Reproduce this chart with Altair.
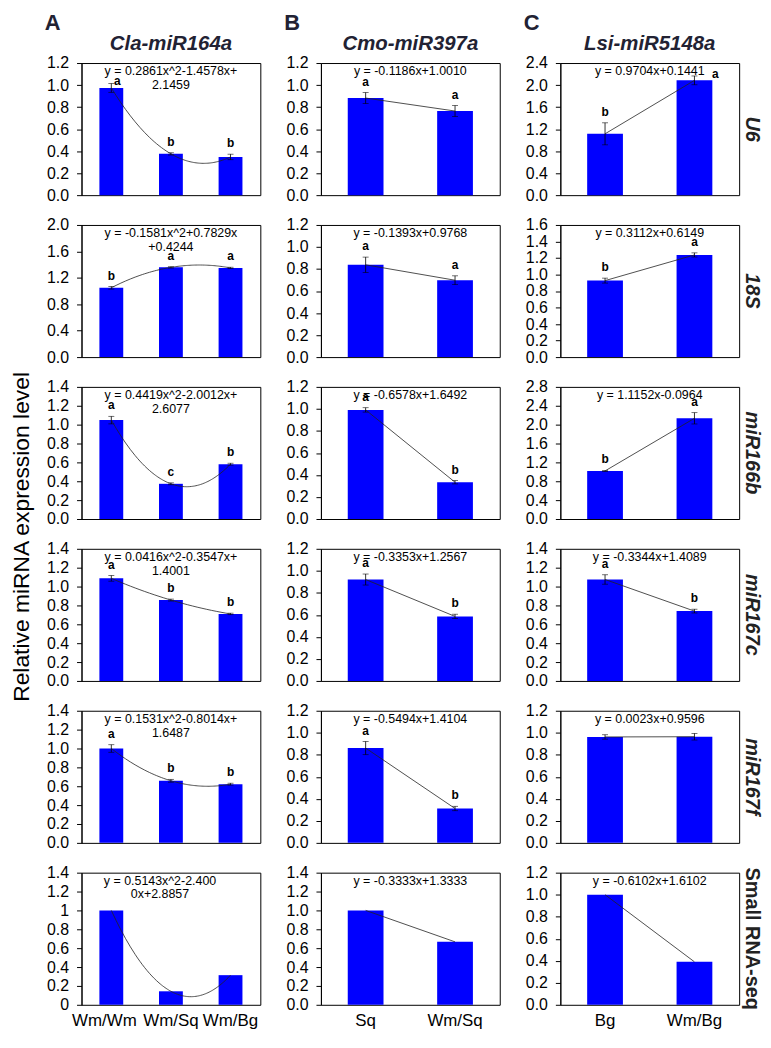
import altair as alt
import pandas as pd

FONT = "Liberation Sans"
BLUE = "#0000ff"
W, H = 180, 133
COL_GAP, ROW_GAP = 61, 30

col_letters = ["A", "B", "C"]
col_titles = ["Cla-miR164a", "Cmo-miR397a", "Lsi-miR5148a"]
row_labels = ["U6", "18S", "miR166b", "miR167c", "miR167f", "Small RNA-seq"]
y_title = "Relative miRNA expression level"
groups = [["Wm/Wm", "Wm/Sq", "Wm/Bg"], ["Sq", "Wm/Sq"], ["Bg", "Wm/Bg"]]

# Column A (Cla-miR164a), one list per row
a_values = [[0.974, 0.375, 0.347], [1.049, 1.358, 1.350], [1.048, 0.373, 0.581],
            [1.087, 0.857, 0.710], [1.000, 0.658, 0.622], [1.000, 0.143, 0.314]]
a_errors = [[0.04, 0.01, 0.025], [0.02, 0.01, 0.01], [0.04, 0.01, 0.01],
            [0.03, 0.01, 0.008], [0.04, 0.015, 0.01], [0, 0, 0]]
a_letters = [["a", "b", "b"], ["b", "a", "a"], ["a", "c", "b"],
             ["a", "b", "b"], ["a", "b", "b"], ["", "", ""]]
a_ymax = [1.2, 2.0, 1.4, 1.4, 1.4, 1.4]
a_step = [0.2, 0.4, 0.2, 0.2, 0.2, 0.2]
a_eq = [["y = 0.2861x^2-1.4578x+", "2.1459"], ["y = -0.1581x^2+0.7829x", "+0.4244"],
        ["y = 0.4419x^2-2.0012x+", "2.6077"], ["y = 0.0416x^2-0.3547x+", "1.4001"],
        ["y = 0.1531x^2-0.8014x+", "1.6487"], ["y = 0.5143x^2-2.400", "0x+2.8857"]]

# Column B (Cmo-miR397a)
b_values = [[0.882, 0.764], [0.838, 0.698], [0.991, 0.334],
            [0.921, 0.586], [0.861, 0.312], [1.000, 0.667]]
b_errors = [[0.05, 0.05], [0.07, 0.04], [0.02, 0.015], [0.05, 0.02], [0.06, 0.02], [0, 0]]
b_letters = [["a", "a"], ["a", "a"], ["a", "b"], ["a", "b"], ["a", "b"], ["", ""]]
b_ymax = [1.2, 1.2, 1.2, 1.2, 1.2, 1.4]
b_step = [0.2, 0.2, 0.2, 0.2, 0.2, 0.2]
b_eq = [["y = -0.1186x+1.0010"], ["y = -0.1393x+0.9768"], ["y = -0.6578x+1.6492"],
        ["y = -0.3353x+1.2567"], ["y = -0.5494x+1.4104"], ["y = -0.3333x+1.3333"]]

# Column C (Lsi-miR5148a)
c_values = [[1.114, 2.085], [0.926, 1.237], [1.019, 2.134],
            [1.075, 0.740], [0.962, 0.964], [1.000, 0.390]]
c_errors = [[0.2, 0.08], [0.03, 0.025], [0.01, 0.12], [0.05, 0.02], [0.02, 0.03], [0, 0]]
c_letters = [["b", "a"], ["b", "a"], ["b", "a"], ["a", "b"], ["", ""], ["", ""]]
c_ymax = [2.4, 1.6, 2.8, 1.4, 1.2, 1.2]
c_step = [0.4, 0.2, 0.4, 0.2, 0.2, 0.2]
c_eq = [["y = 0.9704x+0.1441"], ["y = 0.3112x+0.6149"], ["y = 1.1152x-0.0964"],
        ["y = -0.3344x+1.4089"], ["y = 0.0023x+0.9596"], ["y = -0.6102x+1.6102"]]

VALUES = [a_values, b_values, c_values]
ERRORS = [a_errors, b_errors, c_errors]
LETTERS = [a_letters, b_letters, c_letters]
YMAX = [a_ymax, b_ymax, c_ymax]
STEP = [a_step, b_step, c_step]
EQS = [a_eq, b_eq, c_eq]

# small label nudges (col, row, bar) -> (dx, dy) in px
letter_nudge = {(0, 0, 0): (6, 8), (2, 0, 1): (21, 9)}
eq_nudge = {(0, 5): -11}


def one_row():
    return pd.DataFrame({"k": [0]})


def panel(ci, ri):
    grp = groups[ci]
    n = len(grp)
    df = pd.DataFrame({
        "group": grp,
        "idx": list(range(n)),
        "xnum": list(range(1, n + 1)),
        "val": VALUES[ci][ri],
        "err": ERRORS[ci][ri],
        "letter": LETTERS[ci][ri],
    })
    df["lo"] = (df["val"] - df["err"]).round(4)
    df["hi"] = (df["val"] + df["err"]).round(4)

    ymax, step = YMAX[ci][ri], STEP[ci][ri]
    nt = int(round(ymax / step))
    ticks = [round(k * step, 2) for k in range(nt + 1)]
    fmt = "~g" if (ci == 0 and ri == 5) else ".1f"

    xscale = alt.Scale(domain=grp, paddingInner=0.6, paddingOuter=0.3)
    if ri == 5:
        xaxis = alt.Axis(title=None, labelFontSize=17, ticks=False, domain=False,
                         labelPadding=8, labelAngle=0, labelFont=FONT,
                         labelOffset={"condition": {"test": "datum.value === 'Wm/Wm'",
                                                    "value": -7}, "value": 0})
    else:
        xaxis = None
    yscale = alt.Scale(domain=[0, ymax], nice=False)
    yaxis = alt.Axis(values=ticks, format=fmt, title=None)

    X = alt.X("group:N", scale=xscale, axis=xaxis, sort=grp)

    def Y(f):
        return alt.Y(f, scale=yscale, axis=yaxis)

    base = alt.Chart(df)
    bars = base.mark_bar(color=BLUE).encode(x=X, y=Y("val:Q"))
    rules = base.transform_filter("datum.err > 0").mark_rule(
        color="black", strokeWidth=0.8).encode(x=X, y=Y("lo:Q"), y2="hi:Q")
    caps = base.transform_filter("datum.err > 0").transform_fold(
        ["lo", "hi"], as_=["capk", "capv"]).mark_tick(
        color="black", thickness=0.8, size=6).encode(x=X, y=Y("capv:Q"))

    nudged = [k for k in range(n) if (ci, ri, k) in letter_nudge]
    cond = "datum.letter != ''" + "".join(f" && datum.idx != {k}" for k in nudged)
    letter_layers = [base.transform_filter(cond).mark_text(
        font=FONT, fontSize=12, fontWeight="bold", color="black",
        baseline="bottom", dy=-4).encode(x=X, y=Y("hi:Q"), text="letter:N")]
    for k in nudged:
        dx, dy = letter_nudge[(ci, ri, k)]
        letter_layers.append(base.transform_filter(f"datum.idx == {k}").mark_text(
            font=FONT, fontSize=12, fontWeight="bold", color="black",
            baseline="bottom", dx=dx, dy=-4 + dy).encode(x=X, y=Y("hi:Q"), text="letter:N"))

    inner = alt.layer(bars, rules, caps, *letter_layers)

    if n == 3:
        reg = base.transform_regression("xnum", "val", method="poly", order=2)
    else:
        reg = base.transform_regression("xnum", "val", method="linear")
    trend = reg.mark_line(color="#222222", strokeWidth=0.8).encode(
        x=alt.X("xnum:Q", scale=alt.Scale(domain=[0.5, n + 0.5], nice=False, zero=False),
                axis=None),
        y=Y("val:Q"))

    texts = []
    texts.append(alt.Chart(one_row()).mark_text(
        text=EQS[ci][ri], font=FONT, fontSize=12.5, lineHeight=14, color="black",
        align="center", baseline="top").encode(
        x=alt.value(W / 2 + eq_nudge.get((ci, ri), 0)), y=alt.value(2)))

    if ci == 2:
        lab = row_labels[ri]
        style = "normal" if lab.startswith("Small") else "italic"
        texts.append(alt.Chart(one_row()).mark_text(
            text=lab, font=FONT, fontSize=20, fontWeight="bold", fontStyle=style,
            color="#222222", angle=90, align="center", baseline="middle").encode(
            x=alt.value(W + 13), y=alt.value(H / 2)))
    if ri == 0:
        texts.append(alt.Chart(one_row()).mark_text(
            text=col_letters[ci], font=FONT, fontSize=22, fontWeight="bold",
            color="#222233", align="center", baseline="alphabetic").encode(
            x=alt.value(-29), y=alt.value(-33)))
        texts.append(alt.Chart(one_row()).mark_text(
            text=col_titles[ci], font=FONT, fontSize=20.5, fontWeight="bold",
            fontStyle="italic", color="#222233", align="center",
            baseline="alphabetic").encode(x=alt.value(W / 2), y=alt.value(-13)))
    if ci == 0 and ri == 3:
        texts.append(alt.Chart(one_row()).mark_text(
            text=y_title, font=FONT, fontSize=23, color="black", angle=270,
            align="center", baseline="middle").encode(
            x=alt.value(-60), y=alt.value(-12)))

    return alt.layer(inner, trend, *texts).resolve_scale(x="independent").properties(
        width=W, height=H)


panels = [panel(ci, ri) for ri in range(6) for ci in range(3)]

chart = alt.concat(
    *panels, columns=3, spacing={"row": ROW_GAP, "column": COL_GAP}, bounds="flush"
).properties(padding={"left": 2, "top": 0, "right": 0, "bottom": 0}).configure_view(
    stroke="black", strokeWidth=1
).configure_axis(
    labelFont=FONT, labelFontSize=16, labelColor="black", domainColor="black",
    tickColor="black", tickSize=5, labelPadding=8, grid=False, domainWidth=1, tickWidth=1
)

chart.save("out.html", embed_options={"renderer": "svg", "actions": False})
